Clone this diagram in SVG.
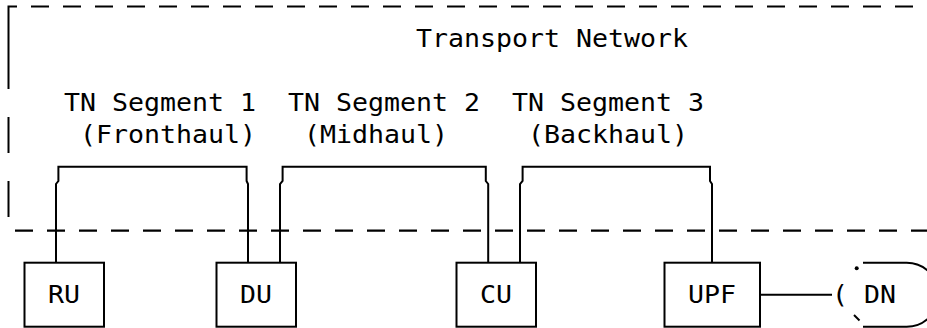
<svg xmlns="http://www.w3.org/2000/svg" width="927" height="328" viewBox="0 0 927 328">
<style>
  .t { font-family: "DejaVu Sans Mono", "Liberation Mono", monospace; font-size: 24.5px; fill: #000; }
  .ln { fill: none; stroke: #000; stroke-width: 2; }
  .dash { fill: none; stroke: #000; stroke-width: 2.2; stroke-dasharray: 18 14; }
  .box { fill: #fff; stroke: #000; stroke-width: 2; }
</style>
<rect width="927" height="328" fill="#fff"/>
<g id="transport-network">
  <path class="ln" d="M17 6.5 H8.5 V89 M8.5 117 V153 M8.5 181 V217"/>
  <line class="dash" x1="31" y1="6.5" x2="927" y2="6.5"/>
  <line class="dash" x1="15" y1="230.7" x2="927" y2="230.7"/>
  <text class="t" x="416" y="47" textLength="272" lengthAdjust="spacingAndGlyphs">Transport Network</text>
</g>
<g id="segment-labels">
  <text class="t" x="64" y="111" textLength="192" lengthAdjust="spacingAndGlyphs">TN Segment 1</text>
  <text class="t" x="288" y="111" textLength="192" lengthAdjust="spacingAndGlyphs">TN Segment 2</text>
  <text class="t" x="512" y="111" textLength="192" lengthAdjust="spacingAndGlyphs">TN Segment 3</text>
  <text class="t" x="80" y="143" textLength="176" lengthAdjust="spacingAndGlyphs">(Fronthaul)</text>
  <text class="t" x="304" y="143" textLength="144" lengthAdjust="spacingAndGlyphs">(Midhaul)</text>
  <text class="t" x="528" y="143" textLength="160" lengthAdjust="spacingAndGlyphs">(Backhaul)</text>
</g>
<g id="connectors">
  <path class="ln" d="M56 262.7 V184 L58.4 181 V166.7 H246.6 V181 L248 184 V262.7"/>
  <path class="ln" d="M280 262.7 V184 L282.6 181 V166.7 H485.8 V181 L488.2 184 V262.7"/>
  <path class="ln" d="M520 262.7 V184 L522.6 181 V166.7 H710 V181 L712 184 V262.7"/>
  <line class="ln" x1="760" y1="294.7" x2="832" y2="294.7"/>
</g>
<g id="RU">
  <rect class="box" x="24.5" y="262.7" width="79.5" height="64"/>
  <text class="t" x="48" y="303" textLength="32" lengthAdjust="spacingAndGlyphs">RU</text>
</g>
<g id="DU">
  <rect class="box" x="216.5" y="262.7" width="79.5" height="64"/>
  <text class="t" x="240" y="303" textLength="32" lengthAdjust="spacingAndGlyphs">DU</text>
</g>
<g id="CU">
  <rect class="box" x="456.5" y="262.7" width="79.5" height="64"/>
  <text class="t" x="480" y="303" textLength="32" lengthAdjust="spacingAndGlyphs">CU</text>
</g>
<g id="UPF">
  <rect class="box" x="664.5" y="262.7" width="95.5" height="64"/>
  <text class="t" x="688" y="303" textLength="48" lengthAdjust="spacingAndGlyphs">UPF</text>
</g>
<g id="DN">
  <text class="t" x="832" y="303" textLength="16" lengthAdjust="spacingAndGlyphs">(</text>
  <circle cx="856.7" cy="268.3" r="2" fill="#000"/>
  <line class="ln" x1="854" y1="315" x2="859.5" y2="320.5"/>
  <path class="ln" d="M863 262.7 H906.7 A32 32 0 0 1 906.7 326.7 H863"/>
  <text class="t" x="864" y="303" textLength="32" lengthAdjust="spacingAndGlyphs">DN</text>
</g>
</svg>
